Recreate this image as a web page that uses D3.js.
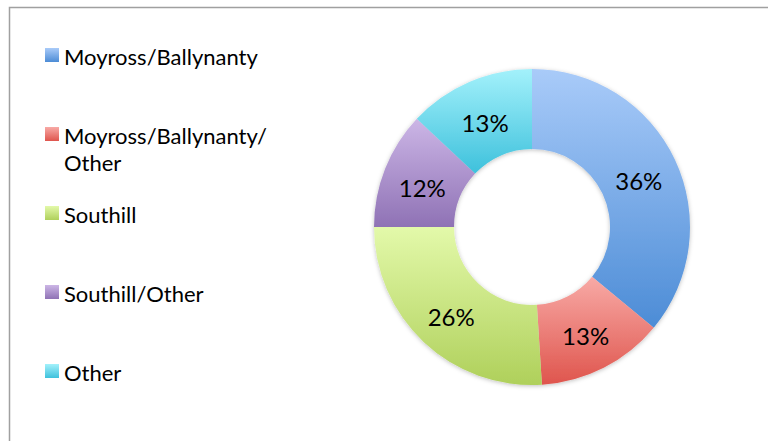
<!DOCTYPE html>
<head>
  <meta charset="utf-8">
  <script src="https://d3js.org/d3.v7.min.js"></script>
  <style>
    body {
      margin: 0;
      background: #fff;
    }

    text {
      font-family: 'Lato', 'Open Sans', sans-serif;
      fill: #000;
    }

    .legend text {
      font-size: 22px;
    }

    .label {
      font-size: 24px;
      text-anchor: middle;
    }
  </style>
</head>
<body>
  <script>
    var categories = ["Moyross/Ballynanty", "Moyross/Ballynanty/Other", "Southill", "Southill/Other", "Other"];
    var legendLines = [["Moyross/Ballynanty"], ["Moyross/Ballynanty/", "Other"], ["Southill"], ["Southill/Other"], ["Other"]];
    var values = [36, 13, 26, 12, 13];
    var topColors = ["#a9cbf9", "#f8aaa6", "#e3f9aa", "#ccb6e6", "#a3f1fb"];
    var bottomColors = ["#4c8cd6", "#df554d", "#afd05b", "#8f72b5", "#3ec1dc"];

    var width = 768;
    var height = 441;

    var svg = d3.select("body").append("svg")
        .attr("width", width)
        .attr("height", height);

    // chart border (only top and left visible in the crop)
    svg.append("path")
        .attr("d", "M9.5," + height + "V7.5H" + width)
        .attr("fill", "none")
        .attr("stroke", "#a0a0a0")
        .attr("stroke-width", 1.5);

    var defs = svg.append("defs");

    categories.forEach(function(c, i) {
      var g = defs.append("linearGradient")
          .attr("id", "grad" + i)
          .attr("x1", 0).attr("y1", 0)
          .attr("x2", 0).attr("y2", 1);
      g.append("stop").attr("offset", "0%").attr("stop-color", topColors[i]);
      g.append("stop").attr("offset", "100%").attr("stop-color", bottomColors[i]);
    });

    var shadow = defs.append("filter")
        .attr("id", "shadow")
        .attr("x", "-10%").attr("y", "-10%")
        .attr("width", "120%").attr("height", "120%");
    shadow.append("feDropShadow")
        .attr("dx", 0).attr("dy", 1)
        .attr("stdDeviation", 2)
        .attr("flood-color", "#000")
        .attr("flood-opacity", 0.25);

    var cx = 532, cy = 227, outer = 158, inner = 78;

    var pie = d3.pie()
        .sort(null)
        .value(function(d) { return d; });

    var arc = d3.arc()
        .innerRadius(inner)
        .outerRadius(outer);

    var donut = svg.append("g")
        .attr("transform", "translate(" + cx + "," + cy + ")");

    var arcs = pie(values);

    donut.append("g")
        .attr("filter", "url(#shadow)")
      .selectAll("path")
        .data(arcs)
      .enter().append("path")
        .attr("d", arc)
        .attr("fill", function(d, i) { return "url(#grad" + i + ")"; });

    donut.selectAll(".label")
        .data(arcs)
      .enter().append("text")
        .attr("class", "label")
        .attr("transform", function(d) {
          var c = arc.centroid(d);
          return "translate(" + c[0] + "," + (c[1] + 13) + ")";
        })
        .text(function(d) { return d.data + "%"; });

    // legend
    var legend = svg.append("g")
        .attr("class", "legend")
        .selectAll("g")
        .data(categories)
      .enter().append("g")
        .attr("transform", function(d, i) { return "translate(45," + (48 + i * 79) + ")"; });

    legend.append("rect")
        .attr("width", 14)
        .attr("height", 14)
        .attr("fill", function(d, i) { return "url(#grad" + i + ")"; });

    legend.append("text")
        .attr("x", 19)
        .attr("y", 17)
        .selectAll("tspan")
        .data(function(d, i) { return legendLines[i]; })
      .enter().append("tspan")
        .attr("x", 19)
        .attr("dy", function(d, j) { return j ? 27 : 0; })
        .text(function(d) { return d; });
  </script>
</body>
